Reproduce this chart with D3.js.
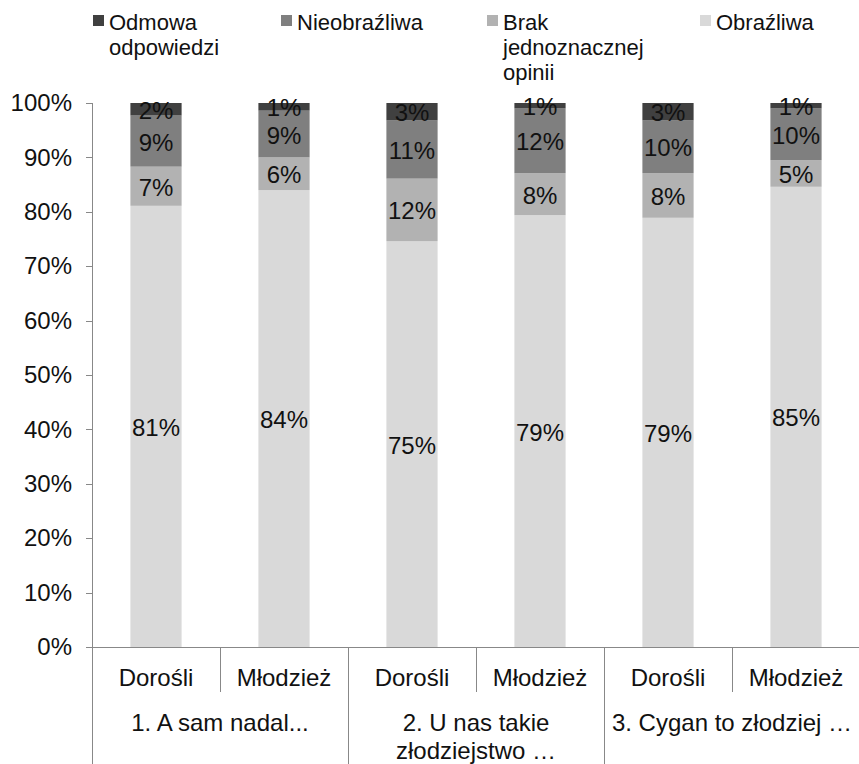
<!DOCTYPE html>
<html>
<head>
    <meta charset="utf-8">
    <title>Stacked 100% bars</title>
    <script src="https://cdn.jsdelivr.net/npm/d3@7"></script>
    <style type="text/css">
        body {
            margin: 0;
            background: #fff;
        }
        svg text {
            font-family: "Liberation Sans", Arial, sans-serif;
            fill: #111;
        }
        .axis path,
        .axis line {
            fill: none;
            stroke: #888;
            shape-rendering: crispEdges;
        }
        .axis text {
            font-size: 24px;
        }
    </style>
</head>
<body>
    <div id="chart"></div>

    <script type="text/javascript">
        // data (percent of answers)
        var groups = ["1. A sam nadal...", "2. U nas takie złodziejstwo …", "3. Cygan to złodziej  …"];
        var groupLines = [["1. A sam nadal..."], ["2. U nas takie", "złodziejstwo  …"], ["3. Cygan to złodziej  …"]];
        var subs = ["Dorośli", "Młodzież"];
        var seriesNames = ["Odmowa odpowiedzi", "Nieobraźliwa", "Brak jednoznacznej opinii", "Obraźliwa"];
        var legendLines = [["Odmowa", "odpowiedzi"], ["Nieobraźliwa"], ["Brak", "jednoznacznej", "opinii"], ["Obraźliwa"]];

        // per bar, in order g1-D, g1-M, g2-D, g2-M, g3-D, g3-M
        var obrazliwa = [81.1, 84.0, 74.6, 79.4, 78.9, 84.6];
        var brak = [7.2, 6.0, 11.5, 7.7, 8.2, 4.9];
        var nieobrazliwa = [9.4, 8.6, 10.7, 11.9, 9.7, 9.5];
        var odmowa = [2.3, 1.4, 3.2, 1.0, 3.2, 1.0];

        var yTicks = [0, 0.1, 0.2, 0.3, 0.4, 0.5, 0.6, 0.7, 0.8, 0.9, 1];

        var colors = {
            "Odmowa odpowiedzi": "#404040",
            "Nieobraźliwa": "#7f7f7f",
            "Brak jednoznacznej opinii": "#b2b2b2",
            "Obraźliwa": "#d9d9d9"
        };

        var w = 859;
        var h = 764;
        var plotLeft = 92, plotRight = 860, plotTop = 103, plotBottom = 647;

        // build rows for the stack
        var rows = [];
        var cats = [];
        groups.forEach(function (g, gi) {
            subs.forEach(function (s, si) {
                var i = gi * 2 + si;
                var id = gi + "-" + s;
                cats.push(id);
                rows.push({
                    id: id,
                    sub: s,
                    "Obraźliwa": obrazliwa[i],
                    "Brak jednoznacznej opinii": brak[i],
                    "Nieobraźliwa": nieobrazliwa[i],
                    "Odmowa odpowiedzi": odmowa[i]
                });
            });
        });

        var stackKeys = ["Obraźliwa", "Brak jednoznacznej opinii", "Nieobraźliwa", "Odmowa odpowiedzi"];
        var stacked = d3.stack().keys(stackKeys).offset(d3.stackOffsetExpand)(rows);

        var xScale = d3.scaleBand()
            .domain(cats)
            .range([plotLeft, plotRight])
            .paddingInner(0.6)
            .paddingOuter(0.3);

        var yScale = d3.scaleLinear()
            .domain([0, 1])
            .range([plotBottom, plotTop]);

        var svg = d3.select("#chart")
            .append("svg")
            .attr("width", w)
            .attr("height", h);

        // bars
        var layer = svg.selectAll("g.layer")
            .data(stacked)
            .enter()
            .append("g")
            .attr("class", "layer")
            .attr("fill", function (d) {
                return colors[d.key];
            });

        layer.selectAll("rect")
            .data(function (d) { return d; })
            .enter()
            .append("rect")
            .attr("x", function (d) { return xScale(d.data.id); })
            .attr("width", xScale.bandwidth())
            .attr("y", function (d) { return yScale(d[1]); })
            .attr("height", function (d) { return yScale(d[0]) - yScale(d[1]); });

        // value labels
        stacked.forEach(function (s) {
            svg.append("g")
                .selectAll("text")
                .data(s)
                .enter()
                .append("text")
                .attr("x", function (d) { return xScale(d.data.id) + xScale.bandwidth() / 2; })
                .attr("y", function (d) { return (yScale(d[0]) + yScale(d[1])) / 2 + 1; })
                .attr("text-anchor", "middle")
                .attr("dominant-baseline", "central")
                .attr("font-size", "24px")
                .text(function (d) { return Math.round(d.data[s.key]) + "%"; });
        });

        // y axis
        var yAxis = d3.axisLeft()
            .scale(yScale)
            .tickValues(yTicks)
            .tickSize(6)
            .tickPadding(14)
            .tickFormat(d3.format(".0%"));

        svg.append("g")
            .attr("class", "y axis")
            .attr("transform", "translate(" + plotLeft + ",0)")
            .call(yAxis)
            .call(function (g) {
                g.select(".domain").attr("d", "M-6," + (plotTop + 0.5) + "H0.5V" + h);
            });

        // x axis line and separators
        var xg = svg.append("g").attr("class", "x axis");
        xg.append("line")
            .attr("x1", plotLeft).attr("x2", w)
            .attr("y1", plotBottom + 0.5).attr("y2", plotBottom + 0.5);

        var step = xScale.step();
        cats.forEach(function (c, i) {
            if (i === 0) return;
            var xb = xScale(c) - xScale.paddingInner() * step / 2;
            xg.append("line")
                .attr("x1", Math.round(xb) + 0.5).attr("x2", Math.round(xb) + 0.5)
                .attr("y1", plotBottom)
                .attr("y2", i % 2 === 0 ? h : 692);
        });

        // sub labels
        xg.selectAll("text.sub")
            .data(rows)
            .enter()
            .append("text")
            .attr("class", "sub")
            .attr("x", function (d) { return xScale(d.id) + xScale.bandwidth() / 2; })
            .attr("y", 677)
            .attr("text-anchor", "middle")
            .attr("dominant-baseline", "central")
            .text(function (d) { return d.sub; });

        // group labels
        groupLines.forEach(function (lines, gi) {
            var cx = (xScale(cats[gi * 2]) + xScale(cats[gi * 2 + 1]) + xScale.bandwidth()) / 2;
            var t = xg.append("text")
                .attr("text-anchor", "middle")
                .attr("dominant-baseline", "central");
            lines.forEach(function (ln, li) {
                t.append("tspan")
                    .attr("x", cx)
                    .attr("y", 722 + li * 28)
                    .text(ln);
            });
        });

        // legend
        var legendX = [93, 281, 487, 700];
        var legend = svg.append("g").attr("class", "legend");
        seriesNames.forEach(function (name, i) {
            var gItem = legend.append("g")
                .attr("transform", "translate(" + legendX[i] + ",0)");
            gItem.append("rect")
                .attr("x", 0).attr("y", 15)
                .attr("width", 11).attr("height", 11)
                .attr("fill", colors[name]);
            var t = gItem.append("text")
                .attr("font-size", "22px")
                .attr("dominant-baseline", "central");
            legendLines[i].forEach(function (ln, li) {
                t.append("tspan")
                    .attr("x", 16)
                    .attr("y", 22 + li * 25)
                    .text(ln);
            });
        });
    </script>
</body>
</html>
